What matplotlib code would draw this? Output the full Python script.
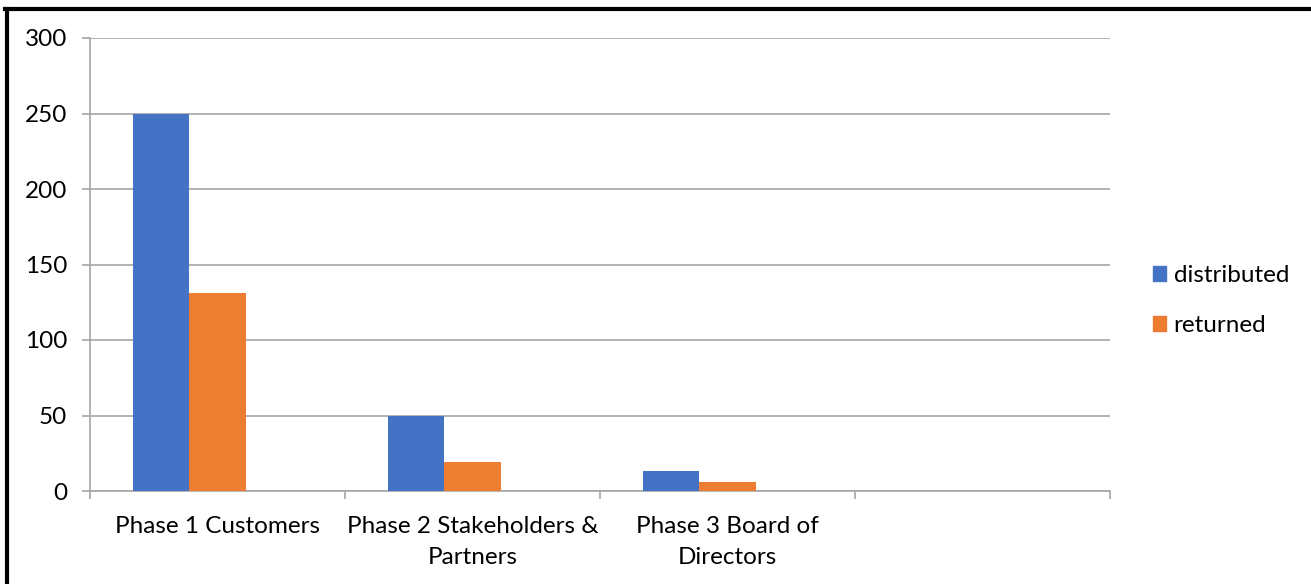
import matplotlib
matplotlib.use("Agg")
import matplotlib.pyplot as plt
from matplotlib.lines import Line2D

categories = ["Phase 1 Customers", "Phase 2 Stakeholders &\nPartners", "Phase 3 Board of\nDirectors", ""]
distributed = [250, 50, 13, None]
returned = [131, 19, 6, None]
yticks = [0, 50, 100, 150, 200, 250, 300]

plt.rcParams['font.family'] = ['Lato', 'DejaVu Sans']

W, H = 1311, 584
fig = plt.figure(figsize=(W / 100, H / 100), dpi=100)
ax = fig.add_axes([90 / W, (H - 491) / H, 1020 / W, 453 / H])

blue = "#4472C4"
orange = "#ED7D31"
bw = 0.2216
xs = list(range(len(categories)))
# cluster of three slots (third series slot is empty), centred on each category
for i in xs:
    if distributed[i] is not None:
        ax.bar(i - bw, distributed[i], width=bw, color=blue, zorder=3)
    if returned[i] is not None:
        ax.bar(i, returned[i], width=bw, color=orange, zorder=3)

ax.set_xlim(-0.5, len(categories) - 0.5)
ax.set_ylim(0, 300)
ax.set_yticks(yticks)
ax.set_yticklabels([str(v) for v in yticks], fontsize=17.5)
ax.yaxis.grid(True, color="#a6a6a6", linewidth=1.2, zorder=0)
ax.set_axisbelow(True)

ax.set_xticks([x - 0.5 for x in xs] + [len(categories) - 0.5])
ax.set_xticklabels([])
ax.set_xticks(xs, minor=True)
ax.set_xticklabels(categories, minor=True, fontsize=17.5, linespacing=1.6, va="top")
ax.tick_params(axis="x", which="major", length=6, color="#a6a6a6", width=1.2)
ax.tick_params(axis="x", which="minor", length=0, pad=18)
ax.tick_params(axis="y", length=6, color="#a6a6a6", width=1.2, pad=10.5)

for s in ["top", "right"]:
    ax.spines[s].set_visible(False)
ax.spines["left"].set_color("#a6a6a6")
ax.spines["bottom"].set_color("#a6a6a6")
ax.spines["left"].set_linewidth(1.2)
ax.spines["bottom"].set_linewidth(1.2)

handles = [plt.Rectangle((0, 0), 1, 1, color=blue), plt.Rectangle((0, 0), 1, 1, color=orange)]
fig.legend(handles, ["distributed", "returned"], loc="center left",
           bbox_to_anchor=(1131 / W, 1 - 300.5 / H), frameon=False, fontsize=17.5,
           handlelength=0.55, handleheight=0.55, handletextpad=0.3, labelspacing=1.2)

fig.add_artist(Line2D([5 / W, 1], [1 - 9 / H, 1 - 9 / H], color="black", linewidth=3, transform=fig.transFigure))
fig.add_artist(Line2D([7 / W, 7 / W], [0, 1 - 9 / H], color="black", linewidth=3, transform=fig.transFigure))

fig.savefig("out.png", dpi=100)
